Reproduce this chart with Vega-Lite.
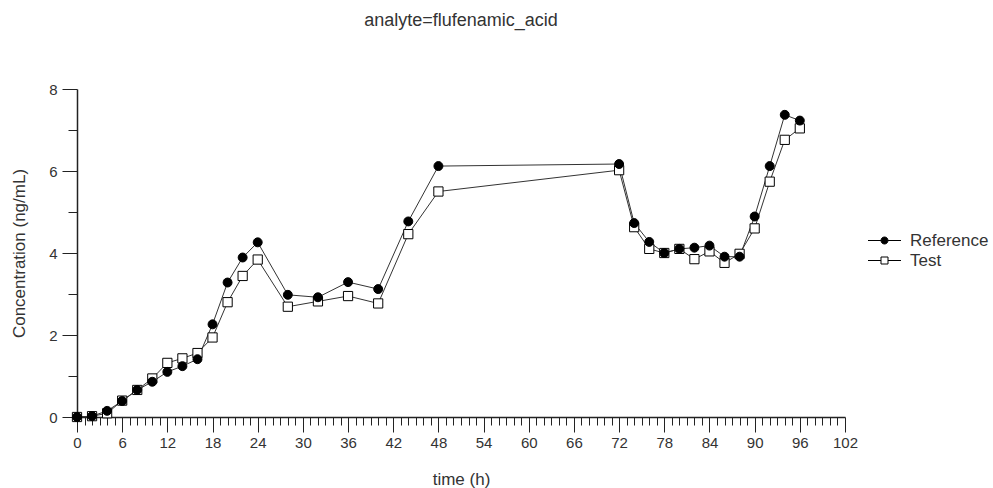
{
  "$schema": "https://vega.github.io/schema/vega-lite/v6.json",
  "autosize": {"type": "none"},
  "width": 768,
  "height": 328,
  "padding": {"left": 77, "top": 89, "right": 148, "bottom": 71},
  "background": "white",
  "title": {"text": "analyte=flufenamic_acid", "anchor": "middle", "frame": "group", "offset": 52, "fontSize": 18, "fontWeight": "normal", "font": "Liberation Sans", "color": "#333"},
  "config": {
    "view": {"stroke": null},
    "axis": {"labelFont": "Liberation Sans", "titleFont": "Liberation Sans", "labelColor": "#333", "titleColor": "#333", "titleFontWeight": "normal", "domainColor": "#222", "domainWidth": 1.5, "tickColor": "#222", "tickWidth": 1, "grid": false},
    "legend": {"labelFont": "Liberation Sans", "labelColor": "#333"}
  },
  "data": {"values": [
    {"t":0,"s":"Test","c":0},{"t":2,"s":"Test","c":0.02},{"t":4,"s":"Test","c":0.09},{"t":6,"s":"Test","c":0.4},{"t":8,"s":"Test","c":0.66},{"t":10,"s":"Test","c":0.94},{"t":12,"s":"Test","c":1.32},{"t":14,"s":"Test","c":1.43},{"t":16,"s":"Test","c":1.56},{"t":18,"s":"Test","c":1.94},{"t":20,"s":"Test","c":2.8},{"t":22,"s":"Test","c":3.44},{"t":24,"s":"Test","c":3.84},{"t":28,"s":"Test","c":2.69},{"t":32,"s":"Test","c":2.82},{"t":36,"s":"Test","c":2.95},{"t":40,"s":"Test","c":2.77},{"t":44,"s":"Test","c":4.46},{"t":48,"s":"Test","c":5.5},{"t":72,"s":"Test","c":6.02},{"t":74,"s":"Test","c":4.63},{"t":76,"s":"Test","c":4.1},{"t":78,"s":"Test","c":4.0},{"t":80,"s":"Test","c":4.1},{"t":82,"s":"Test","c":3.85},{"t":84,"s":"Test","c":4.04},{"t":86,"s":"Test","c":3.76},{"t":88,"s":"Test","c":3.98},{"t":90,"s":"Test","c":4.6},{"t":92,"s":"Test","c":5.74},{"t":94,"s":"Test","c":6.76},{"t":96,"s":"Test","c":7.04},
    {"t":0,"s":"Reference","c":0},{"t":2,"s":"Reference","c":0.02},{"t":4,"s":"Reference","c":0.15},{"t":6,"s":"Reference","c":0.39},{"t":8,"s":"Reference","c":0.66},{"t":10,"s":"Reference","c":0.86},{"t":12,"s":"Reference","c":1.1},{"t":14,"s":"Reference","c":1.24},{"t":16,"s":"Reference","c":1.41},{"t":18,"s":"Reference","c":2.26},{"t":20,"s":"Reference","c":3.28},{"t":22,"s":"Reference","c":3.89},{"t":24,"s":"Reference","c":4.26},{"t":28,"s":"Reference","c":2.98},{"t":32,"s":"Reference","c":2.92},{"t":36,"s":"Reference","c":3.29},{"t":40,"s":"Reference","c":3.12},{"t":44,"s":"Reference","c":4.77},{"t":48,"s":"Reference","c":6.12},{"t":72,"s":"Reference","c":6.17},{"t":74,"s":"Reference","c":4.73},{"t":76,"s":"Reference","c":4.27},{"t":78,"s":"Reference","c":4.0},{"t":80,"s":"Reference","c":4.1},{"t":82,"s":"Reference","c":4.13},{"t":84,"s":"Reference","c":4.18},{"t":86,"s":"Reference","c":3.91},{"t":88,"s":"Reference","c":3.91},{"t":90,"s":"Reference","c":4.89},{"t":92,"s":"Reference","c":6.12},{"t":94,"s":"Reference","c":7.37},{"t":96,"s":"Reference","c":7.23}
  ]},
  "encoding": {
    "x": {"field": "t", "type": "quantitative", "title": "time (h)",
      "scale": {"domain": [0, 102], "nice": false, "zero": false},
      "axis": {
        "values": [0,1,2,3,4,5,6,7,8,9,10,11,12,13,14,15,16,17,18,19,20,21,22,23,24,25,26,27,28,29,30,31,32,33,34,35,36,37,38,39,40,41,42,43,44,45,46,47,48,49,50,51,52,53,54,55,56,57,58,59,60,61,62,63,64,65,66,67,68,69,70,71,72,73,74,75,76,77,78,79,80,81,82,83,84,85,86,87,88,89,90,91,92,93,94,95,96,97,98,99,100,101,102],
        "labelExpr": "datum.value % 6 === 0 ? datum.label : ''",
        "tickSize": {"condition": {"test": "datum.value % 6 === 0", "value": 15}, "value": 8},
        "labelFontSize": 15, "labelPadding": 3, "labelOverlap": false, "labelFlush": false,
        "titleFontSize": 17, "titlePadding": 21
      }},
    "y": {"field": "c", "type": "quantitative", "title": "Concentration (ng/mL)",
      "scale": {"domain": [0, 8], "nice": false},
      "axis": {
        "values": [0,1,2,3,4,5,6,7,8],
        "labelExpr": "datum.value % 2 === 0 ? datum.label : ''",
        "tickSize": {"condition": {"test": "datum.value % 2 === 0", "value": 15}, "value": 9},
        "labelFontSize": 15, "labelPadding": 5, "labelOverlap": false, "labelFlush": false,
        "titleFontSize": 17, "titlePadding": 20
      }}
  },
  "layer": [
    {"mark": {"type": "line", "color": "#333", "strokeWidth": 1},
     "encoding": {"detail": {"field": "s"}}},
    {"transform": [{"filter": "datum.s === 'Test'"}],
     "mark": {"type": "point", "shape": "square", "filled": true, "fill": "white", "stroke": "black", "strokeWidth": 1, "opacity": 1, "size": 85}},
    {"transform": [{"filter": "datum.s === 'Reference'"}],
     "mark": {"type": "point", "shape": "circle", "filled": true, "fill": "black", "stroke": "black", "strokeWidth": 1, "opacity": 1, "size": 80}},
    {"transform": [{"filter": "datum.t < 0"}],
     "mark": {"type": "point", "filled": true, "strokeWidth": 1, "opacity": 1},
     "encoding": {
       "shape": {"field": "s", "type": "nominal",
         "scale": {"domain": ["Reference", "Test"], "range": ["M-3.3,0H-0.7M0.7,0H3.3M-0.7,0A0.7,0.7,0,1,1,0.7,0A0.7,0.7,0,1,1,-0.7,0Z", "M-3.3,0H-0.7M0.7,0H3.3M-0.7,-0.7H0.7V0.7H-0.7Z"]},
         "legend": {"title": null, "orient": "none", "legendX": 799, "legendY": 143, "symbolSize": 100, "symbolStrokeWidth": 1, "symbolOpacity": 1, "labelFontSize": 17, "labelOffset": 17, "rowPadding": 2}},
       "fill": {"field": "s", "type": "nominal", "scale": {"domain": ["Reference", "Test"], "range": ["black", "white"]}},
       "stroke": {"field": "s", "type": "nominal", "scale": {"domain": ["Reference", "Test"], "range": ["black", "black"]}}
     }}
  ]
}
